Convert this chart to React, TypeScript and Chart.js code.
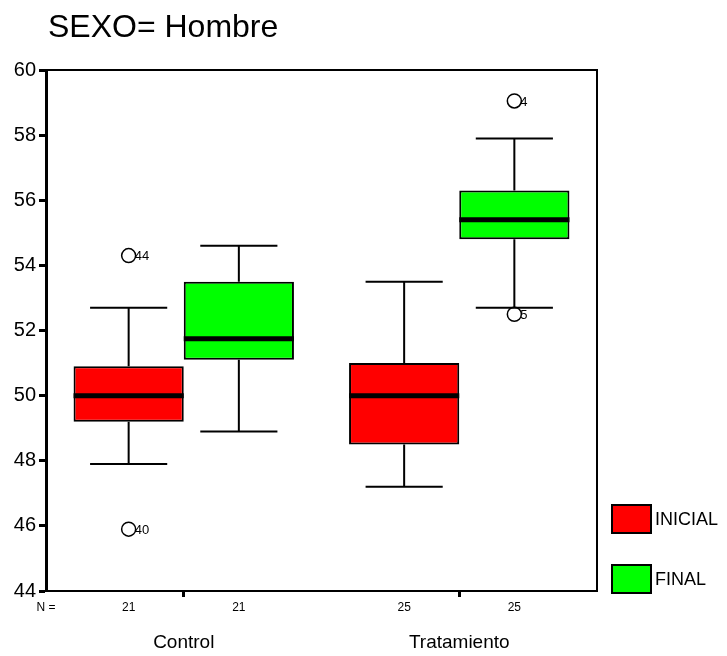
import React, { useEffect, useRef } from 'react';
import { Chart, registerables } from 'chart.js';

Chart.register(...registerables);

const titleText = 'SEXO= Hombre';
const categories = ['Control', 'Tratamiento'];
const seriesLabels = ['INICIAL', 'FINAL'];
const seriesColors = ['#FF0000', '#00FF00'];
const yTickValues = [44, 46, 48, 50, 52, 54, 56, 58, 60];

// INICIAL box statistics per category
const inicialMin = [47.9, 47.2];
const inicialQ1 = [49.2, 48.5];
const inicialMedian = [50.0, 50.0];
const inicialQ3 = [50.9, 51.0];
const inicialMax = [52.7, 53.5];
const inicialN = [21, 25];
const inicialOutlierValues = [[54.3, 45.9], []];
const inicialOutlierLabels = [['44', '40'], []];

// FINAL box statistics per category
const finalMin = [48.9, 52.7];
const finalQ1 = [51.1, 54.8];
const finalMedian = [51.75, 55.4];
const finalQ3 = [53.5, 56.3];
const finalMax = [54.6, 57.9];
const finalN = [21, 25];
const finalOutlierValues = [[], [59.05, 52.5]];
const finalOutlierLabels = [[], ['4', '5']];

const FONT = '"Liberation Sans", Arial, sans-serif';

const stats = [
  { min: inicialMin, q1: inicialQ1, med: inicialMedian, q3: inicialQ3, max: inicialMax, n: inicialN, ov: inicialOutlierValues, ol: inicialOutlierLabels },
  { min: finalMin, q1: finalQ1, med: finalMedian, q3: finalQ3, max: finalMax, n: finalN, ov: finalOutlierValues, ol: finalOutlierLabels },
];

const boxPlugin = {
  id: 'boxExtras',
  afterDatasetsDraw(chart: any) {
    const ctx = chart.ctx;
    const ys = chart.scales.y;
    const area = chart.chartArea;
    ctx.save();
    stats.forEach((s, di) => {
      const meta = chart.getDatasetMeta(di);
      meta.data.forEach((bar: any, ci: number) => {
        const p = bar.getProps(['x', 'width'], true);
        const cx = p.x;
        const w = p.width;
        const capHalf = w * 0.35;
        ctx.strokeStyle = '#000';
        ctx.lineWidth = 2;
        ctx.lineCap = 'butt';
        const yMax = ys.getPixelForValue(s.max[ci]);
        const yQ3 = ys.getPixelForValue(s.q3[ci]);
        const yQ1 = ys.getPixelForValue(s.q1[ci]);
        const yMin = ys.getPixelForValue(s.min[ci]);
        ctx.beginPath();
        ctx.moveTo(cx, yQ3);
        ctx.lineTo(cx, yMax);
        ctx.moveTo(cx, yQ1);
        ctx.lineTo(cx, yMin);
        ctx.moveTo(cx - capHalf, yMax);
        ctx.lineTo(cx + capHalf, yMax);
        ctx.moveTo(cx - capHalf, yMin);
        ctx.lineTo(cx + capHalf, yMin);
        ctx.stroke();
        // median
        const yMed = ys.getPixelForValue(s.med[ci]);
        ctx.lineWidth = 5;
        ctx.beginPath();
        ctx.moveTo(cx - w / 2, yMed);
        ctx.lineTo(cx + w / 2, yMed);
        ctx.stroke();
        // outliers
        ctx.lineWidth = 1.5;
        ctx.font = `13px ${FONT}`;
        ctx.fillStyle = '#000';
        ctx.textAlign = 'left';
        ctx.textBaseline = 'middle';
        s.ov[ci].forEach((v: number, k: number) => {
          const oy = ys.getPixelForValue(v);
          ctx.beginPath();
          ctx.arc(cx, oy, 7, 0, Math.PI * 2);
          ctx.stroke();
          ctx.fillText(s.ol[ci][k], cx + 6, oy + 1);
        });
        // N counts
        ctx.font = `12px ${FONT}`;
        ctx.textAlign = 'center';
        ctx.fillText(String(s.n[ci]), cx, 608);
      });
    });
    // frame top & right
    ctx.strokeStyle = '#000';
    ctx.lineWidth = 2;
    ctx.beginPath();
    ctx.moveTo(area.left, area.top);
    ctx.lineTo(area.right, area.top);
    ctx.lineTo(area.right, area.bottom);
    ctx.stroke();
    // N label
    ctx.font = `12px ${FONT}`;
    ctx.textAlign = 'center';
    ctx.textBaseline = 'middle';
    ctx.fillStyle = '#000';
    ctx.fillText('N =', area.left, 608);
    // title
    ctx.font = `32px ${FONT}`;
    ctx.textAlign = 'left';
    ctx.textBaseline = 'alphabetic';
    ctx.fillText(titleText, 48, 37);
    // legend
    const legendY = [505, 565];
    seriesLabels.forEach((lab, i) => {
      const bx = area.right + 15;
      const by = legendY[i];
      ctx.fillStyle = seriesColors[i];
      ctx.fillRect(bx, by, 39, 28);
      ctx.strokeStyle = '#000';
      ctx.lineWidth = 2;
      ctx.strokeRect(bx, by, 39, 28);
      ctx.fillStyle = '#000';
      ctx.font = `18px ${FONT}`;
      ctx.textAlign = 'left';
      ctx.textBaseline = 'middle';
      ctx.fillText(lab, bx + 43, by + 15);
    });
    ctx.restore();
  },
};

export default function App() {
  const ref = useRef<HTMLCanvasElement | null>(null);
  useEffect(() => {
    document.body.style.margin = '0';
    const canvas = ref.current;
    if (!canvas) return;
    const chart = new Chart(canvas, {
      type: 'bar',
      data: {
        labels: categories,
        datasets: stats.map((s, i) => ({
          label: seriesLabels[i],
          data: s.q1.map((q, k) => [q, s.q3[k]]),
          backgroundColor: seriesColors[i],
          borderColor: '#000',
          borderWidth: 2,
          borderSkipped: false,
          categoryPercentage: 0.8,
          barPercentage: 1.0,
        })),
      },
      options: {
        animation: false,
        responsive: false,
        devicePixelRatio: 1,
        layout: { padding: { left: 0, top: 70, right: 130, bottom: 0 } },
        plugins: {
          legend: { display: false },
          tooltip: { enabled: false },
          title: { display: false },
        },
        scales: {
          x: {
            type: 'category',
            offset: true,
            grid: {
              offset: false,
              drawOnChartArea: false,
              drawTicks: true,
              tickLength: 6,
              tickWidth: 3,
              tickColor: '#000',
            },
            border: { display: true, color: '#000', width: 2 },
            ticks: {
              color: '#000',
              padding: 34,
              font: { family: FONT, size: 19 },
              maxRotation: 0,
            },
            afterFit: (scale: any) => {
              scale.height = 65;
            },
          },
          y: {
            type: 'linear',
            min: 44,
            max: 60,
            afterBuildTicks: (scale: any) => {
              scale.ticks = yTickValues.map((v) => ({ value: v }));
            },
            grid: {
              drawOnChartArea: false,
              drawTicks: true,
              tickLength: 7,
              tickWidth: 3,
              tickColor: '#000',
            },
            border: { display: true, color: '#000', width: 3 },
            ticks: {
              color: '#000',
              padding: 3,
              font: { family: FONT, size: 20 },
            },
            afterFit: (scale: any) => {
              scale.width = 46;
            },
          },
        },
      },
      plugins: [boxPlugin],
    } as any);
    return () => chart.destroy();
  }, []);
  return <canvas ref={ref} width={727} height={656} style={{ display: 'block' }} />;
}
